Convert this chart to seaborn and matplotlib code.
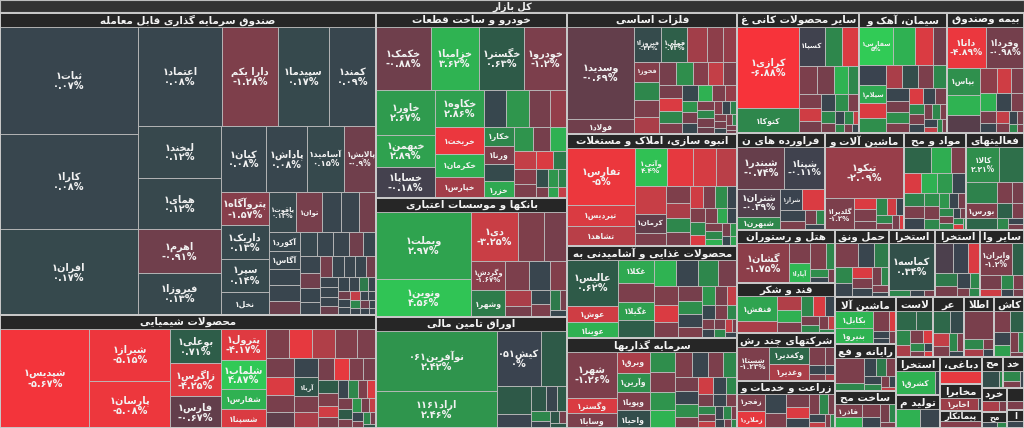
import numpy as np
import matplotlib
matplotlib.use("Agg")
import matplotlib.pyplot as plt
from matplotlib.patches import Rectangle
import seaborn as sns

# ------------------------------------------------------------------ data
title_text = "کل بازار"

sector_names = [
    "صندوق سرمایه گذاری قابل معامله", "محصولات شیمیایی", "خودرو و ساخت قطعات",
    "بانکها و موسسات اعتباری", "اوراق تامین مالی", "فلزات اساسی",
    "انبوه سازی، املاک و مستغلات", "محصولات غذایی و آشامیدنی به جز قند", "سرمایه گذاریها",
    "سایر محصولات کانی غیرفلزی", "سیمان، آهک و گچ", "بیمه وصندوق بازنشستگی به جزتامین اجتماعی",
    "فراورده های نفتی، کک و سوخت هسته ای", "ماشین آلات و تجهیزات", "مواد و محصولات دارویی",
    "فعالیتهای کمکی به نهادهای مالی واسط", "هتل و رستوران", "قند و شکر",
    "شرکتهای چند رشته ای صنعتی", "زراعت و خدمات وابسته", "حمل ونقل، انبارداری و ارتباطات",
    "استخراج کانه های فلزی", "استخراج نفت گاز و خدمات جنبی جز اکتشاف", "سایر واسطه گریهای مالی",
    "ماشین آلات و دستگاههای برقی", "رایانه و فعالیتهای وابسته به آن", "ساخت محصولات فلزی",
    "لاستیک و پلاستیک", "عرضه برق، گاز، بخاروآب گرم", "اطلاعات و ارتباطات",
    "کاشی و سرامیک", "استخراج زغال سنگ", "تولید محصولات کامپیوتری الکترونیکی ونوری",
    "دباغی، پرداخت چرم و ساخت انواع پاپوش", "مخابرات", "پیمانکاری صنعتی",
    "محصولات چوبی", "خدمات فنی و مهندسی", "خرده فروشی،باستثنای وسایل نقلیه موتوری",
    "محصولات کاغذی", "ساخت دستگاهها و وسایل ارتباطی", "استخراج سایر معادن"]
sector_sizes = [113250, 42375, 35150, 22610, 21090, 20570, 19040, 15640, 15300,
                14637, 10472, 9282, 8360, 7600, 5985, 5510, 5184, 4896, 4620, 4600,
                3618, 3149, 3015, 3000, 2832, 2800, 2245, 2240, 1830, 1820, 1760,
                1700, 1450, 1120, 1080, 713, 651, 640, 620, 400, 380, 300]

# --- stocks per sector (labelled ones first, then unlabelled small ones)
fund_names = ["ثبات۱", "کارا۱", "افران۱", "اعتماد۱", "دارا یکم", "سپیدما۱", "کمند۱", "لبخند۱",
              "همای۱", "اهرم۱", "فیروزا۱", "کیان۱", "پاداش۱", "آسامید۱", "پالایش۱", "پتروآگاه۱",
              "داریک۱", "سپر۱", "نخل۱", "یاقوت۱", "توان۱", "آوند۱", "شتاب۱", "آکورد۱", "آگاس۱"]
fund_sizes = [14766, 13110, 11868, 8400, 5500, 5100, 4700, 4368, 4284, 3612, 3528, 2948, 2747,
              2412, 2144, 1617, 1610, 1568, 1127, 1088, 1020, 782, 700, 600, 560,
              714, 500, 480, 450, 420, 400, 380, 350, 330, 320, 300, 280, 260, 250, 240, 230,
              220, 200, 190, 180, 170, 160, 150, 140, 130, 120, 110, 100, 95, 90, 85, 80, 75,
              70, 65, 60, 55, 50]
fund_chg = [0.07, 0.08, 0.17, 0.08, -1.28, 0.17, 0.09, 0.12, 0.12, -0.91, 0.13, 0.08, 0.08,
            0.15, -0.9, -1.57, 0.13, 0.14, 0.1, 0.13, -1.04, 0.07, -0.95, 0.1, 0.08,
            0.05, 0.06, 0.05, -0.85, 0.1, 0.06, 0.04, -0.9, 0.07, 0.05, -0.9, 0.06, 0.05,
            -1.0, 0.07, 0.05, 0.06, -0.9, 0.05, 0.06, 0.04, -0.8, 0.06, 0.05, 1.5, 0.05,
            -0.9, 0.06, 0.05, -3.0, 0.05, 0.04, 2.0, 0.05, -0.9, 0.05, 0.05, 0.04]

chem_names = ["شپدیس۱", "شیراز۱", "پارسان۱", "بوعلی۱", "زاگرس۱", "فارس۱", "پترول۱", "شلماب۱",
              "شفارس۱", "شسپنا۱", "آریا۱"]
chem_sizes = [9300, 4452, 3948, 1855, 1749, 1696, 1472, 1380, 920, 900, 450,
              730, 720, 700, 690, 600, 560, 540, 500, 480, 460, 400, 380, 360, 340, 320, 300,
              280, 260, 240, 220, 200, 190, 180, 170, 160, 150, 140, 130, 120, 110, 100, 90,
              80, 70, 60]
chem_chg = [-5.67, -5.15, -5.08, 0.71, -4.25, -0.67, -4.17, 4.87, 3.5, -4.0, 0.4,
            -1.3, -4.5, -2.6, -1.4, -1.2, -1.0, -4.0, -1.1, -0.6, 0.05, -1.2, -2.5, -1.0,
            -4.5, -1.2, -1.0, 0.6, -1.3, -3.5, -1.1, 0.05, 2.0, -1.2, -4.0, -1.1, 0.6, -1.2,
            2.5, -1.0, -3.0, 0.05, -1.2, 2.0, -1.0, 0.5]

auto_names = ["خکمک۱", "خزامیا۱", "خگستر۱", "خودرو۱", "خاور۱", "خبهمن۱", "خساپا۱", "خکاوه۱",
              "خریخت۱", "خکرمان۱", "خپارس۱", "خکار۱", "ورنا۱", "خزر۱"]
auto_sizes = [3355, 2928, 2745, 2620, 2560, 1815, 1760, 1750, 1260, 1080, 990, 540, 513, 486,
              805, 805, 770, 595, 500, 450, 405, 400, 380, 350, 300, 280, 250, 200, 180, 150,
              120, 100, 90]
auto_chg = [-0.88, 3.62, 0.63, -1.2, 2.67, 2.89, -0.18, 2.86, -4.9, 3.4, -2.3, 2.0, -1.2, 3.2,
            0.1, 2.5, -1.0, -2.0, 0.2, 2.4, -1.0, 3.5, -3.0, -1.5, -1.2, -4.0, 1.5, 0.3, 2.5,
            1.8, -1.2, 3.0, -3.0]

bank_names = ["وبملت۱", "ونوین۱", "دی۱", "وگردش۱", "وشهر۱"]
bank_sizes = [6460, 3705, 2365, 1008, 936, 1320, 1155, 700, 600, 500, 420, 300, 280, 250, 200,
              150, 120]
bank_chg = [2.97, 4.56, -3.25, -1.67, 1.6, -1.3, -1.0, -1.2, 0.05, -1.4, -2.5, -1.0, 0.1,
            -1.2, 1.5, -1.0, 0.1]

orak_names = ["نوآفرین۰۶۱", "اراد۱۱۶۱", "کیش۰۵۱"]
orak_sizes = [7625, 4625, 2560, 1500, 1000, 500, 400, 300, 250, 200, 150, 120, 100, 80]
orak_chg = [2.42, 2.46, 0.0, 0.6, 0.55, 0.02, 0.5, 0.05, 0.6, 2.0, 0.05, 0.5, -1.0, 0.5]

metal_names = ["وسدید۱", "فولاد۱", "فیروزا۱", "فملی۱", "ذوب۱", "فخوز۱"]
metal_sizes = [6532, 1065, 1015, 980, 551, 522,
               735, 595, 464, 319, 450, 430, 420, 400, 380, 360, 340, 320, 300, 280, 260,
               240, 220, 200, 190, 180, 170, 160, 150, 140, 130, 120, 110, 100, 95, 90, 80,
               70, 60, 55, 50]
metal_chg = [-0.69, -0.9, 0.22, 0.73, -2.0, -1.5,
             -2.3, -1.8, 2.0, -4.0, -1.2, -2.5, -1.0, 2.2, -1.5, -3.0, -1.3, -1.0, 2.0,
             -1.2, 0.1, 3.5, -1.2, -2.0, 2.4, -1.0, 0.1, -1.2, 2.0, -1.0, -0.8, -1.5, 0.05,
             1.8, -1.2, -1.0, 0.1, -1.2, 2.0, -1.0, -0.9]

build_names = ["تفارس۱", "تپردیس۱", "تشاهد۱", "وآتی۱", "کرمان۱"]
build_sizes = [3990, 1450, 1420, 1260, 600,
               1050, 882, 870, 860, 420, 400, 380, 350, 330, 300, 280, 260, 240, 220, 200,
               180, 170, 160, 150, 140, 130, 120, 110, 100, 90, 80]
build_chg = [-5.0, -4.0, -2.8, 4.4, -0.66,
             -4.5, -3.8, -2.8, -3.2, -1.2, -1.3, -2.5, 2.0, -1.0, -3.5, -1.2, 2.2, 0.05,
             -1.3, 2.0, -4.0, -1.2, 3.2, 0.05, -1.2, 2.0, 3.5, -1.0, 2.4, 0.1, 3.0]

food_names = ["عالیس۱", "عوش۱", "عوینا۱", "غکلا۱", "غگیلا۱"]
food_sizes = [2438, 848, 848, 828, 648,
              648, 612, 700, 600, 560, 520, 450, 420, 400, 360, 330, 300, 280, 250, 230,
              210, 190, 170, 150, 130, 120, 110, 100, 90, 80, 70]
food_chg = [0.62, -3.5, 3.5, 3.2, 2.8,
            0.7, 3.6, -1.2, 0.05, 2.0, -1.0, -1.3, -4.0, -1.2, -1.0, 2.2, 0.05, -1.3, 2.5,
            -1.0, -3.0, 0.1, -1.2, 2.0, -1.2, 0.05, -1.0, 2.0, -3.0, -1.0, 0.05]

invest_names = ["شهر۱", "وگستر۱", "وسایا۱", "وبرق۱", "وآرین۱", "وپویا۱", "واحیا۱"]
invest_sizes = [2438, 795, 790, 735, 630, 625, 620,
                560, 520, 500, 480, 450, 420, 400, 380, 350, 320, 300, 280, 250, 230, 210,
                190, 170, 150, 140, 130, 120, 110, 100, 90, 80, 70, 60]
invest_chg = [-1.26, -4.0, -1.2, -2.5, 2.3, -1.3, 0.3,
              2.2, -1.2, 2.4, 3.6, -1.3, 0.05, -1.2, 2.0, -1.0, 0.05, 2.2, -1.2, -3.5, 0.05,
              2.0, -1.0, 0.05, -1.2, 2.0, -1.0, -3.0, 0.05, 2.0, -1.2, 0.05, -1.0, 2.0]

mineral_names = ["کرازی۱", "کتوکا۱", "کسپا۱", "کفرا۱"]
mineral_sizes = [5360, 1675, 1089, 420,
                 750, 726, 530, 500, 350, 330, 300, 280, 250, 220, 200, 180, 160, 140, 120,
                 100, 90, 80, 70]
mineral_chg = [-6.88, 2.0, -0.1, 3.6,
               2.0, -4.0, -1.2, -1.0, 2.0, -1.2, -3.5, -1.0, 0.05, 2.2, -1.2, 2.0, -1.0,
               0.05, 2.0, -3.0, 2.0, -1.0, 0.05]

cement_names = ["سفارس۱", "سیلام۱"]
cement_sizes = [1320, 480,
                891, 693, 544, 512, 420, 400, 380, 360, 340, 320, 300, 280, 260, 240, 220,
                200, 180, 160, 150, 140, 130, 120, 110, 100, 90, 80, 70]
cement_chg = [5.0, 3.2,
              3.5, -4.0, -0.9, 0.0, -4.0, 2.2, -2.5, 0.3, -1.2, 2.0, 0.05, -1.0, 2.2, -1.2,
              -4.0, 0.05, -1.0, 2.0, -1.2, 0.05, -1.0, 2.0, -1.2, 0.05, -3.0, 2.0, -1.0]

insur_names = ["دانا۱", "وفردا۱", "بپاس۱", "ودی۱"]
insur_sizes = [1850, 1800, 1000, 400,
               760, 700, 480, 380, 340, 300, 270, 220, 200, 170, 140, 120, 100, 90, 80]
insur_chg = [-4.89, -0.98, 2.29, -3.5,
             3.6, -0.5, -1.8, -1.2, 3.5, 0.05, -1.2, -1.0, 0.05, -3.0, -1.2, 0.05, -1.0,
             2.0, -1.2]

oil_names = ["شبندر۱", "شپنا۱", "شتران۱", "شبهرن۱", "شراز۱"]
oil_sizes = [1840, 1600, 1100, 510, 442, 442, 256, 200, 150, 120, 100]
oil_chg = [-0.74, -0.11, -0.39, 2.0, 0.0, -4.0, 0.05, -1.2, -1.0, 2.0, 0.05]

mach_names = ["تیکو۱", "گلدیرا۱"]
mach_sizes = [4080, 928, 250, 250, 200, 190, 150, 130, 120, 110, 100, 80]
mach_chg = [-2.09, -1.2, -4.0, -1.2, -1.0, 2.0, -3.5, 0.05, 2.0, -1.2, -1.0, -4.0]

pharma_names = []
pharma_sizes = [960, 700, 550, 450, 420, 400, 380, 350, 330, 300, 270, 250, 220, 200, 180,
                160, 150, 130, 120, 100, 90, 80, 70, 60]
pharma_chg = [0.9, 3.3, -1.2, -4.0, 3.5, 2.6, 0.05, 1.8, -1.2, 0.05, 2.2, -1.2, 2.0, 2.5,
              0.05, -1.0, 2.0, -1.2, 2.0, 0.05, -1.0, 2.0, -4.0, 2.0]

finsup_names = ["کالا۱", "بورس۱"]
finsup_sizes = [1320, 527, 1000, 744, 400, 350, 300, 250, 200, 150, 120, 100]
finsup_chg = [2.21, -1.3, 1.2, 1.8, 0.9, -1.2, -1.0, 0.8, -1.2, 2.0, 0.05, -1.0]

hotel_names = ["گشان۱", "آپادا۱"]
hotel_sizes = [2120, 441, 450, 420, 250, 150, 120, 100]
hotel_chg = [-1.75, 3.8, -1.2, -1.3, 2.0, 2.2, 0.05, -1.0]

sugar_names = ["قنقش۱"]
sugar_sizes = [1025, 492, 330, 300, 280, 260, 240, 200, 180, 150, 120, 100, 80]
sugar_chg = [3.0, -2.5, -2.6, 3.5, -1.2, 2.0, -4.0, 0.05, -1.0, 2.0, -1.2, -3.0, 2.0]

multi_names = ["شستا۱", "وکغدیر۱", "وغدیر۱"]
multi_sizes = [1150, 760, 740, 300, 200, 150, 120, 100, 80]
multi_chg = [-1.23, 1.0, -2.5, -1.2, -1.0, 0.05, -1.2, 0.05, -2.5]

agri_names = ["زفجر۱", "زملارد۱"]
agri_sizes = [560, 560, 500, 400, 350, 300, 280, 250, 200, 180, 150, 120, 100, 80]
agri_chg = [-1.2, -4.5, 0.05, -1.2, -1.0, -4.0, 0.05, -1.2, 2.0, -1.0, 0.05, -3.0, -1.2, 2.0]

trans_names = []
trans_sizes = [600, 400, 380, 300, 280, 250, 220, 200, 180, 150, 120, 100]
trans_chg = [-1.2, 0.05, 1.6, 2.0, 0.05, -4.0, -1.2, 0.05, -1.0, 2.0, -1.2, 0.05]

ore_names = ["کماسه۱"]
ore_sizes = [2025, 150, 100, 80]
ore_chg = [0.34, 2.0, 0.05, -1.0]

oilx_names = ["کدما۱"]
oilx_sizes = [350, 550, 480, 300, 250, 200, 150, 120, 100]
oilx_chg = [-4.0, -0.3, 0.0, 1.5, -1.0, 0.05, 2.0, -1.2, 2.0]

otherfin_names = ["وایران۱"]
otherfin_sizes = [1128, 400, 300, 200, 180, 150, 120, 100]
otherfin_chg = [-1.2, 0.8, -1.0, -3.5, 2.0, -1.2, 0.05, -1.0]

elec_names = ["بکابل۱", "بنیرو۱"]
elec_sizes = [592, 590, 300, 130, 100, 90, 80]
elec_chg = [3.8, 3.6, -1.2, -4.0, 0.05, 0.05, -1.0]

comp_names = []
comp_sizes = [783, 250, 220, 200, 180, 150, 120, 100, 80, 60]
comp_chg = [-1.2, 2.0, 0.05, 1.5, -1.2, 0.05, 2.0, -1.2, 0.05, -3.0]

metalprod_names = ["فاذر۱"]
metalprod_sizes = [351, 300, 250, 200, 150, 120, 100]
metalprod_chg = [-1.2, 3.5, -1.2, 0.05, -1.0, 2.0, -1.2]

rubber_sizes = [450, 400, 250, 220, 200, 150, 120, 100, 90, 70]
rubber_chg = [1.0, 0.9, 2.0, -2.5, -1.2, -4.0, 2.0, -1.2, 0.05, -4.0]
power_sizes = [300, 260, 180, 150, 120, 100, 80]
power_chg = [1.0, 0.2, -3.0, -1.2, 2.0, -1.2, 0.05]
info_sizes = [864, 200, 150, 120, 100]
info_chg = [-1.1, 2.0, -2.5, -1.2, 0.05]
tile_sizes = [330, 300, 200, 180, 150, 120, 80]
tile_chg = [-1.2, 0.8, 0.05, 2.8, -1.2, 2.0, -1.0]
coal_names = ["کشرق۱"]
coal_sizes = [765, 100]
coal_chg = [3.5, 0.05]
electro_sizes = [360, 300]
electro_chg = [3.5, 0.05]
leather_sizes = [300]
leather_chg = [-4.5]
telecom_names = ["اخابر۱"]
telecom_sizes = [578, 60]
telecom_chg = [-2.2, 0.05]
contract_sizes = [400]
contract_chg = [-1.5]
wood_sizes = [250, 60]
wood_chg = [0.3, 2.0]
engserv_sizes = [200, 120, 80]
engserv_chg = [2.0, -1.2, 0.05]
retail_sizes = [200, 100]
retail_chg = [-2.5, -1.2]
paper_sizes = [100, 60]
paper_chg = [0.05, 2.0]
commdev_sizes = [120]
commdev_chg = [-1.2]
othermine_sizes = [60]
othermine_chg = [0.05]

sector_tiles = [
    (fund_names, fund_sizes, fund_chg), (chem_names, chem_sizes, chem_chg),
    (auto_names, auto_sizes, auto_chg), (bank_names, bank_sizes, bank_chg),
    (orak_names, orak_sizes, orak_chg), (metal_names, metal_sizes, metal_chg),
    (build_names, build_sizes, build_chg), (food_names, food_sizes, food_chg),
    (invest_names, invest_sizes, invest_chg), (mineral_names, mineral_sizes, mineral_chg),
    (cement_names, cement_sizes, cement_chg), (insur_names, insur_sizes, insur_chg),
    (oil_names, oil_sizes, oil_chg), (mach_names, mach_sizes, mach_chg),
    (pharma_names, pharma_sizes, pharma_chg), (finsup_names, finsup_sizes, finsup_chg),
    (hotel_names, hotel_sizes, hotel_chg), (sugar_names, sugar_sizes, sugar_chg),
    (multi_names, multi_sizes, multi_chg), (agri_names, agri_sizes, agri_chg),
    (trans_names, trans_sizes, trans_chg), (ore_names, ore_sizes, ore_chg),
    (oilx_names, oilx_sizes, oilx_chg), (otherfin_names, otherfin_sizes, otherfin_chg),
    (elec_names, elec_sizes, elec_chg), (comp_names, comp_sizes, comp_chg),
    (metalprod_names, metalprod_sizes, metalprod_chg), ([], rubber_sizes, rubber_chg),
    ([], power_sizes, power_chg), ([], info_sizes, info_chg), ([], tile_sizes, tile_chg),
    (coal_names, coal_sizes, coal_chg), ([], electro_sizes, electro_chg),
    ([], leather_sizes, leather_chg), (telecom_names, telecom_sizes, telecom_chg),
    ([], contract_sizes, contract_chg), ([], wood_sizes, wood_chg),
    ([], engserv_sizes, engserv_chg), ([], retail_sizes, retail_chg),
    ([], paper_sizes, paper_chg), ([], commdev_sizes, commdev_chg),
    ([], othermine_sizes, othermine_chg)]

# colour scale (percent change -> colour)
scale_values = [-6, -4.5, -3, -2, -1, -0.5, 0, 0.5, 1.5, 2.5, 3.5, 5]
scale_colors = ["#f7333a", "#e6393f", "#c23f47", "#933e4a", "#763f4c", "#573e4b",
                "#3a434f", "#2e5648", "#2e794b", "#2f964d", "#2fb152", "#31cb56"]

# ------------------------------------------------------------------ persian text helpers
AR = {
    'ء': ('\uFE80', None, None, None), 'آ': ('\uFE81', '\uFE82', None, None),
    'أ': ('\uFE83', '\uFE84', None, None), 'ؤ': ('\uFE85', '\uFE86', None, None),
    'إ': ('\uFE87', '\uFE88', None, None), 'ئ': ('\uFE89', '\uFE8A', '\uFE8B', '\uFE8C'),
    'ا': ('\uFE8D', '\uFE8E', None, None), 'ب': ('\uFE8F', '\uFE90', '\uFE91', '\uFE92'),
    'ة': ('\uFE93', '\uFE94', None, None), 'ت': ('\uFE95', '\uFE96', '\uFE97', '\uFE98'),
    'ث': ('\uFE99', '\uFE9A', '\uFE9B', '\uFE9C'), 'ج': ('\uFE9D', '\uFE9E', '\uFE9F', '\uFEA0'),
    'ح': ('\uFEA1', '\uFEA2', '\uFEA3', '\uFEA4'), 'خ': ('\uFEA5', '\uFEA6', '\uFEA7', '\uFEA8'),
    'د': ('\uFEA9', '\uFEAA', None, None), 'ذ': ('\uFEAB', '\uFEAC', None, None),
    'ر': ('\uFEAD', '\uFEAE', None, None), 'ز': ('\uFEAF', '\uFEB0', None, None),
    'س': ('\uFEB1', '\uFEB2', '\uFEB3', '\uFEB4'), 'ش': ('\uFEB5', '\uFEB6', '\uFEB7', '\uFEB8'),
    'ص': ('\uFEB9', '\uFEBA', '\uFEBB', '\uFEBC'), 'ض': ('\uFEBD', '\uFEBE', '\uFEBF', '\uFEC0'),
    'ط': ('\uFEC1', '\uFEC2', '\uFEC3', '\uFEC4'), 'ظ': ('\uFEC5', '\uFEC6', '\uFEC7', '\uFEC8'),
    'ع': ('\uFEC9', '\uFECA', '\uFECB', '\uFECC'), 'غ': ('\uFECD', '\uFECE', '\uFECF', '\uFED0'),
    'ف': ('\uFED1', '\uFED2', '\uFED3', '\uFED4'), 'ق': ('\uFED5', '\uFED6', '\uFED7', '\uFED8'),
    'ك': ('\uFED9', '\uFEDA', '\uFEDB', '\uFEDC'), 'ل': ('\uFEDD', '\uFEDE', '\uFEDF', '\uFEE0'),
    'م': ('\uFEE1', '\uFEE2', '\uFEE3', '\uFEE4'), 'ن': ('\uFEE5', '\uFEE6', '\uFEE7', '\uFEE8'),
    'ه': ('\uFEE9', '\uFEEA', '\uFEEB', '\uFEEC'), 'و': ('\uFEED', '\uFEEE', None, None),
    'ى': ('\uFEEF', '\uFEF0', None, None), 'ي': ('\uFEF1', '\uFEF2', '\uFEF3', '\uFEF4'),
    'پ': ('\uFB56', '\uFB57', '\uFB58', '\uFB59'), 'چ': ('\uFB7A', '\uFB7B', '\uFB7C', '\uFB7D'),
    'ژ': ('\uFB8A', '\uFB8B', None, None), 'ک': ('\uFB8E', '\uFB8F', '\uFB90', '\uFB91'),
    'گ': ('\uFB92', '\uFB93', '\uFB94', '\uFB95'), 'ی': ('\uFBFC', '\uFBFD', '\uFBFE', '\uFBFF'),
}
LAM_ALEF = {'ا': ('\uFEFB', '\uFEFC'), 'آ': ('\uFEF5', '\uFEF6'),
            'أ': ('\uFEF7', '\uFEF8'), 'إ': ('\uFEF9', '\uFEFA')}
DIGITS = set('0123456789۰۱۲۳۴۵۶۷۸۹')
FA = str.maketrans('0123456789', '۰۱۲۳۴۵۶۷۸۹')


def _joins_next(c):
    f = AR.get(c)
    return f is not None and f[2] is not None


def shape(s):
    out, i, n = [], 0, len(s)
    while i < n:
        c = s[i]
        if c not in AR:
            out.append(c)
            i += 1
            continue
        jp = i > 0 and _joins_next(s[i - 1])
        if c == 'ل' and i + 1 < n and s[i + 1] in LAM_ALEF:
            out.append(LAM_ALEF[s[i + 1]][1 if jp else 0])
            i += 2
            continue
        jn = _joins_next(c) and i + 1 < n and s[i + 1] in AR
        f = AR[c]
        if jp and jn:
            g = f[3]
        elif jp:
            g = f[1] or f[0]
        elif jn:
            g = f[2]
        else:
            g = f[0]
        out.append(g)
        i += 1
    return ''.join(out)


def visual(s):
    shaped = shape(s)
    runs, cur, kind = [], '', None
    for ch in shaped:
        k = ch in DIGITS
        if kind is None or k == kind:
            cur += ch
            kind = k
        else:
            runs.append((cur, kind))
            cur, kind = ch, k
    if cur:
        runs.append((cur, kind))
    return ''.join(r if k else r[::-1] for r, k in reversed(runs))


def pct(v):
    s = f"{v:.2f}".rstrip('0').rstrip('.')
    if s in ('-0', ''):
        s = '0'
    return s.translate(FA) + '%'


# ------------------------------------------------------------------ layout
PHI = (1 + 5 ** 0.5) / 2


def squarify(vals, x0, y0, x1, y1, ratio=PHI, bias=1.0):
    """d3-style squarified treemap; bias > 1 favours rows across the top."""
    n = len(vals)
    rects = [None] * n
    value = float(sum(vals))
    i0 = i1 = 0
    while i0 < n:
        dx, dy = x1 - x0, y1 - y0
        sumv = vals[i1]
        i1 += 1
        minv = maxv = sumv
        alpha = max(dy / max(dx, 1e-9), dx / max(dy, 1e-9)) / (value * ratio)
        beta = sumv * sumv * alpha
        minratio = max(maxv / beta, beta / minv)
        while i1 < n:
            nv = vals[i1]
            sumv += nv
            minv, maxv = min(minv, nv), max(maxv, nv)
            beta = sumv * sumv * alpha
            newratio = max(maxv / beta, beta / minv)
            if newratio > minratio:
                sumv -= nv
                break
            minratio = newratio
            i1 += 1
        if dx < dy * bias:  # row across the top
            h = dy * sumv / value
            x = x0
            for k in range(i0, i1):
                w = dx * vals[k] / sumv
                rects[k] = (x, y0, x + w, y0 + h)
                x += w
            y0 += h
        else:  # column at the left
            w = dx * sumv / value
            y = y0
            for k in range(i0, i1):
                h = dy * vals[k] / sumv
                rects[k] = (x0, y, x0 + w, y + h)
                y += h
            x0 += w
        value -= sumv
        i0 = i1
    return rects


# ------------------------------------------------------------------ drawing
sns.set_theme(style="white")
plt.rcParams['font.family'] = ['DejaVu Sans']
cmap = sns.blend_palette(scale_colors, n_colors=256, as_cmap=True)
scale_pos = np.linspace(0, 1, len(scale_values))


def color_for(v):
    return cmap(float(np.interp(v, scale_values, scale_pos)))


W, H = 1024, 428
TOP = 13.0
HDR = 13.5

fig = plt.figure(figsize=(W / 100, H / 100), dpi=100)
fig.patch.set_facecolor('#cfcfcf')
ax = fig.add_axes([0, 0, 1, 1])
ax.set_xlim(0, W)
ax.set_ylim(H, 0)
ax.axis('off')
renderer = fig.canvas.get_renderer()

# root bar
ax.add_patch(Rectangle((0, 0), W, TOP - 1, facecolor='#333333', edgecolor='#bdbdbd', lw=0.8))
ax.text(W / 2, (TOP - 1) / 2 + 0.5, visual(title_text), ha='center', va='center',
        fontsize=7, color='#f0f0f0', fontweight='bold')

order = sorted(range(len(sector_sizes)), key=lambda i: -sector_sizes[i])
srects = squarify([sector_sizes[i] for i in order], 0, TOP, W, H)


def fit_text(t, maxw, fs, minfs):
    while True:
        bb = t.get_window_extent(renderer)
        if bb.width <= maxw or fs <= minfs:
            return bb.width <= maxw
        fs -= 0.25
        t.set_fontsize(fs)


for si, (x0, y0, x1, y1) in zip(order, srects):
    names, sizes, chg = sector_tiles[si]
    assert len(sizes) == len(chg), sector_names[si]
    names = list(names) + [''] * (len(sizes) - len(names))
    sw, sh = x1 - x0, y1 - y0
    hdr = min(HDR, sh * 0.6)
    # tiles
    t_order = sorted(range(len(sizes)), key=lambda i: -sizes[i])
    trects = squarify([sizes[i] for i in t_order], x0, y0 + hdr, x1, y1, bias=1.14)
    for ti, (a0, b0, a1, b1) in zip(t_order, trects):
        ax.add_patch(Rectangle((a0, b0), a1 - a0, b1 - b0, facecolor=color_for(chg[ti]),
                               edgecolor='#bcbcbc', lw=0.6))
        name = names[ti]
        w, h = a1 - a0, b1 - b0
        if not name or w < 16 or h < 9:
            continue
        if h >= 27 and w >= 26:
            fs = max(5.0, min(7.0, w / 6.0, h / 4.2))
            txt = visual(name) + '\n' + pct(chg[ti])
            t = ax.text((a0 + a1) / 2, (b0 + b1) / 2 + 0.5, txt, ha='center', va='center',
                        fontsize=fs, color='#f2f2f2', linespacing=1.0, multialignment='center',
                        fontweight='bold')
        else:
            fs = min(5.5, h / 2.3, w / 5.0)
            if fs < 4.0:
                continue
            t = ax.text((a0 + a1) / 2, (b0 + b1) / 2 + 0.5, visual(name), ha='center',
                        va='center', fontsize=fs, color='#f2f2f2', fontweight='bold')
        if not fit_text(t, w - 3, fs, 4.0):
            t.remove()
    # header (centered, cut when too long)
    ax.add_patch(Rectangle((x0, y0), sw, hdr, facecolor='#262626', edgecolor='#bcbcbc', lw=0.6))
    full = sector_names[si]
    hfs = min(7.5, hdr * 0.6)
    label = full
    while label:
        t = ax.text(x0 + sw / 2, y0 + hdr / 2 + 0.5, visual(label.rstrip()), ha='center',
                    va='center', fontsize=hfs, color='#f4f4f4', fontweight='bold')
        if t.get_window_extent(renderer).width <= sw - 5:
            break
        t.remove()
        label = label[:-1]
    # sector outline
    ax.add_patch(Rectangle((x0, y0), sw, sh, facecolor='none', edgecolor='#c8c8c8', lw=1.4))

fig.savefig('out.png', dpi=100, facecolor=fig.get_facecolor())
